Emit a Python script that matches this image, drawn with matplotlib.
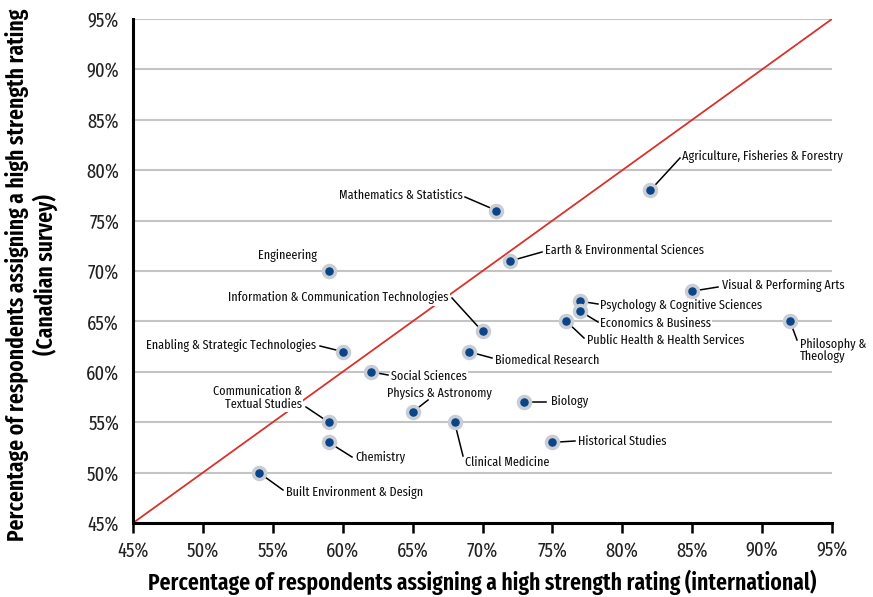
import matplotlib
matplotlib.use("Agg")
import matplotlib.pyplot as plt
from matplotlib import font_manager
from matplotlib.ticker import FuncFormatter, MultipleLocator
from matplotlib.textpath import TextPath
from matplotlib.font_manager import FontProperties

fields = [
    "Agriculture, Fisheries & Forestry", "Mathematics & Statistics", "Engineering",
    "Earth & Environmental Sciences", "Visual & Performing Arts",
    "Psychology & Cognitive Sciences", "Economics & Business",
    "Public Health & Health Services", "Philosophy &\nTheology",
    "Information & Communication Technologies", "Enabling & Strategic Technologies",
    "Biomedical Research", "Social Sciences", "Biology", "Physics & Astronomy",
    "Communication &\nTextual Studies", "Clinical Medicine", "Chemistry",
    "Historical Studies", "Built Environment & Design",
]
international = [82, 71, 59, 72, 85, 77, 77, 76, 92, 70, 60, 69, 62, 73, 65, 59, 68, 59, 75, 54]
canadian = [78, 76, 70, 71, 68, 67, 66, 65, 65, 64, 62, 62, 60, 57, 56, 55, 55, 53, 53, 50]

# label layout: (pixel x, pixel y of text anchor, ha, leader-line end px x, px y or None)
label_layout = [
    (682, 156, 'left', 680, 158),
    (463, 195, 'right', 465, 197),
    (317, 256, 'right', None, None),
    (545, 250, 'left', 542, 252),
    (722, 286, 'left', 718, 287),
    (600, 305, 'left', 598, 304),
    (600, 323, 'left', 598, 322),
    (587, 340, 'left', 584, 338),
    (800, 350, 'left', 797, 340),
    (449, 298, 'right', 452, 298),
    (316, 346, 'right', 320, 346),
    (495, 360, 'left', 492, 358),
    (391, 376, 'left', 388, 375),
    (551, 402, 'left', 546, 402),
    (439, 393, 'center', 428, 400),
    (302, 398, 'right', 306, 407),
    (465, 462, 'left', 463, 456),
    (355, 457, 'left', 352, 457),
    (578, 441, 'left', 575, 441),
    (286, 492, 'left', 283, 490),
]

available = set(f.name for f in font_manager.fontManager.ttflist)
candidates = ['Fira Sans Extra Condensed', 'PT Sans Narrow', 'Fira Sans Condensed', 'Roboto Condensed',
              'Encode Sans Condensed', 'IBM Plex Sans Condensed', 'Asap Condensed',
              'Archivo Narrow', 'Liberation Sans Narrow', 'Liberation Sans']
family = next((c for c in candidates if c in available), 'DejaVu Sans')
plt.rcParams['font.family'] = [family, 'DejaVu Sans']


def fit_size(text, target_px, weight='normal'):
    fp = FontProperties(family=[family, 'DejaVu Sans'], weight=weight, size=10)
    w = TextPath((0, 0), text, prop=fp).get_extents().width  # in points at size 10
    w_px = w * 100 / 72
    return 10 * target_px / w_px


TITLE_W = 'semibold'
label_fs = fit_size("Agriculture, Fisheries & Forestry", 160)
tick_fs = fit_size("50%", 31)
xlab_fs = fit_size("Percentage of respondents assigning a high strength rating (international)", 662, TITLE_W)


def px2data(px, py):
    return 45 + (px - 133) / 13.98, 45 + (523 - py) / 10.08


fig = plt.figure(figsize=(8.73, 5.97), dpi=100)
ax = fig.add_axes([133/873, 1-523/597, (832-133)/873, (523-19)/597])
ax.set_xlim(45, 95)
ax.set_ylim(45, 95)

ax.xaxis.set_major_locator(MultipleLocator(5))
ax.yaxis.set_major_locator(MultipleLocator(5))
fmt = FuncFormatter(lambda v, p: f"{int(round(v))}%")
ax.xaxis.set_major_formatter(fmt)
ax.yaxis.set_major_formatter(fmt)
ax.grid(axis='y', color='#c4c4c4', lw=1.5, zorder=0)
ax.set_axisbelow(True)
for s in ['top', 'right']:
    ax.spines[s].set_visible(False)
for s in ['left', 'bottom']:
    ax.spines[s].set_linewidth(2.2)
    ax.spines[s].set_color('black')
ax.tick_params(axis='x', length=7, width=1.8, direction='out', labelsize=tick_fs, colors='black',
               pad=6, labelcolor='#222222')
ax.tick_params(axis='y', length=0, labelsize=tick_fs, pad=10, labelcolor='#222222')

ax.plot([45, 95], [45, 95], color='#d8322b', lw=1.3, zorder=1)

ax.scatter(international, canadian, s=75, color='#0b4588', edgecolor='#c9cdd4', linewidth=2.5, zorder=4)

for name, x, y, lay in zip(fields, international, canadian, label_layout):
    tx, ty = px2data(lay[0], lay[1])
    ax.text(tx, ty, name, ha=lay[2], va='center', fontsize=label_fs, color='#111111',
            zorder=3, linespacing=1.05,
            bbox=dict(boxstyle='square,pad=0.1', fc='white', ec='none'))
    if lay[3] is not None:
        lx, ly = px2data(lay[3], lay[4])
        ax.plot([lx, x], [ly, y], color='black', lw=1.1, zorder=3)

ax.set_xlabel("Percentage of respondents assigning a high strength rating (international)",
              fontsize=xlab_fs, fontweight=TITLE_W)
ax.xaxis.set_label_coords(0.5, (523 - 595) / 504, transform=ax.transAxes)
ax.xaxis.label.set_va('bottom')
ax.set_ylabel("Percentage of respondents assigning a high strength rating\n(Canadian survey)",
              fontsize=xlab_fs, fontweight=TITLE_W, linespacing=1.15)
ax.yaxis.set_label_coords((58 - 133) / 699, (523 - 275) / 504, transform=ax.transAxes)

fig.savefig("out.png", dpi=100)
